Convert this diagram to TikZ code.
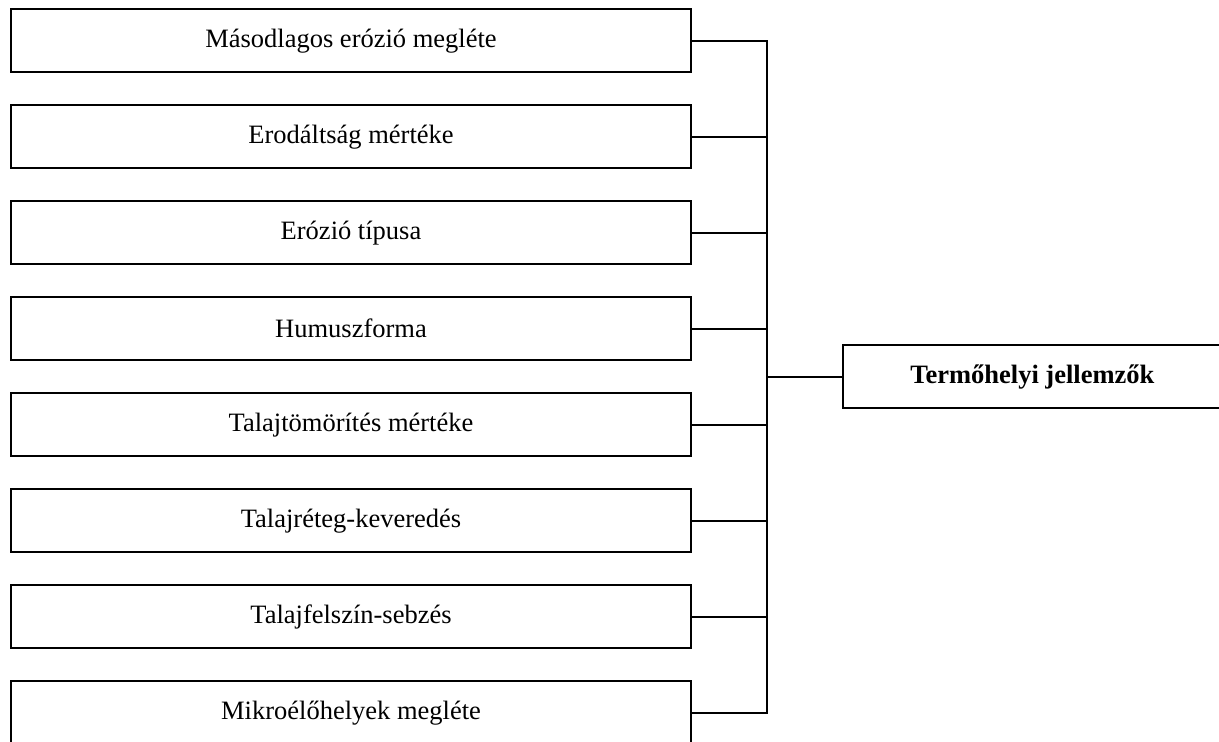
\documentclass[tikz,border=0pt]{standalone}
\usepackage{fontspec}
\setmainfont{Liberation Serif}
\begin{document}
\begin{tikzpicture}[x=1pt,y=-1pt,
  line width=2.2pt,
  itembox/.style={draw, rectangle, inner sep=0pt, minimum width=680pt, minimum height=63.3pt,
    font=\fontsize{26.5}{30}\selectfont},
  targetbox/.style={draw, rectangle, inner sep=0pt, minimum width=379.3pt, minimum height=63.3pt,
    font=\fontsize{26.5}{30}\selectfont\bfseries}]
  \useasboundingbox (0,0) rectangle (1219,742);
  \clip (0,0) rectangle (1219,742);
  % factor boxes, one every 96pt
  \node[itembox] (b1) at (351,40.7)  {Másodlagos erózió megléte};
  \node[itembox] (b2) at (351,136.7) {Erodáltság mértéke};
  \node[itembox] (b3) at (351,232.7) {Erózió típusa};
  \node[itembox] (b4) at (351,328.7) {Humuszforma};
  \node[itembox] (b5) at (351,424.7) {Talajtömörítés mértéke};
  \node[itembox] (b6) at (351,520.7) {Talajréteg-keveredés};
  \node[itembox] (b7) at (351,616.7) {Talajfelszín-sebzés};
  \node[itembox] (b8) at (351,712.7) {Mikroélőhelyek megléte};
  % summary box
  \node[targetbox] (t) at (1032.3,376.7) {Termőhelyi jellemzők};
  % collecting bus
  \coordinate (bus) at (766.7,0);
  \draw (b1.east) -- (b1.east -| bus) -- (b8.east -| bus) -- (b8.east);
  \foreach \i in {2,...,7} {
    \draw (b\i.east) -- (b\i.east -| bus);
  }
  \draw (bus |- t.west) -- (t.west);
\end{tikzpicture}
\end{document}
